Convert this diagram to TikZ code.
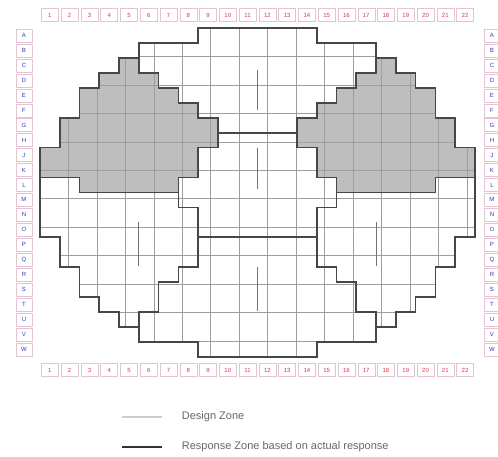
\documentclass[tikz,border=0pt]{standalone}
\usepackage{fontspec}
\setmainfont{Liberation Sans}
\usetikzlibrary{positioning}
\definecolor{lblred}{RGB}{215,55,70}
\definecolor{lblblue}{RGB}{55,55,185}
\definecolor{lblframe}{RGB}{228,196,212}
\definecolor{wingfill}{RGB}{190,190,190}
% outline of the whole zone map, in cells
\newcommand\discpath{(8,0) -- (14,0) -- (14,1) -- (17,1) -- (17,2) -- (18,2) -- (18,3) -- (19,3) -- (19,4) -- (20,4) -- (20,6) -- (21,6) -- (21,8) -- (22,8) -- (22,14) -- (21,14) -- (21,16) -- (20,16) -- (20,18) -- (19,18) -- (19,19) -- (18,19) -- (18,20) -- (17,20) -- (17,21) -- (14,21) -- (14,22) -- (8,22) -- (8,21) -- (5,21) -- (5,20) -- (4,20) -- (4,19) -- (3,19) -- (3,18) -- (2,18) -- (2,16) -- (1,16) -- (1,14) -- (0,14) -- (0,8) -- (1,8) -- (1,6) -- (2,6) -- (2,4) -- (3,4) -- (3,3) -- (4,3) -- (4,2) -- (5,2) -- (5,1) -- (8,1) -- cycle}
% left shaded wing
\newcommand\wingpath{(4,2) -- (5,2) -- (5,3) -- (6,3) -- (6,4) -- (7,4) -- (7,5) -- (8,5) -- (8,6) -- (9,6) -- (9,8) -- (8,8) -- (8,10) -- (7,10) -- (7,11) -- (2,11) -- (2,10) -- (0,10) -- (0,8) -- (1,8) -- (1,6) -- (2,6) -- (2,4) -- (3,4) -- (3,3) -- (4,3) -- cycle}
% left edge of the middle zones
\newcommand\midchain{(7,11) -- (7,12) -- (8,12) -- (8,16) -- (7,16) -- (7,17) -- (6,17) -- (6,19) -- (5,19) -- (5,21)}

\begin{document}
\begin{tikzpicture}[x=19.77pt, y=-14.95pt,
  gridln/.style={line width=0.5pt, draw=black!38},
  resp/.style={line width=1.7pt, draw=black!72},
  design/.style={line width=1.1pt, draw=black!55},
  numbox/.style={draw=lblframe, fill=white, minimum width=17pt, minimum height=13pt, inner sep=0pt, font=\fontsize{6}{7}\selectfont, text=lblred},
  letbox/.style={numbox, minimum width=16pt, text=lblblue},
  legtxt/.style={anchor=west, font=\fontsize{11}{13}\selectfont, text=black!60}]
\useasboundingbox (-2.023,-1.873) rectangle (23.166,28.629);
% wings
\fill[wingfill] \wingpath;
\begin{scope}[shift={(22,0)}, xscale=-1]
\fill[wingfill] \wingpath;
\end{scope}
% cell grid
\begin{scope}
\clip \discpath;
\draw[gridln] (0,0) grid (22,22);
\end{scope}
% design zone marks
\draw[design] (11,2.8) -- (11,5.5);
\draw[design] (11,8) -- (11,10.8);
\draw[design] (11,16) -- (11,18.9);
\draw[design] (5,13) -- (5,15.9);
\draw[design] (17,13) -- (17,15.9);
% response zones
\draw[resp] \discpath;
\draw[resp] \wingpath;
\draw[resp] \midchain;
\begin{scope}[shift={(22,0)}, xscale=-1]
\draw[resp] \wingpath;
\draw[resp] \midchain;
\end{scope}
\draw[resp] (9,7) -- (13,7);
\draw[resp] (8,14) -- (14,14);
% labels
\foreach \c in {1,...,22} {
  \node[numbox] (top\c) at (\c-0.5,-0.87) {\c};
  \node[numbox] (bot\c) at (\c-0.5,22.88) {\c};
}
\foreach \l [count=\r] in {A,B,C,D,E,F,G,H,J,K,L,M,N,O,P,Q,R,S,T,U,V,W} {
  \node[letbox] (lft\l) at (-0.81,\r-0.5) {\l};
  \node[letbox] (rgt\l) at (22.86,\r-0.5) {\l};
}
% legend
\coordinate (dzA) at (4.15,26.02);
\coordinate (dzB) at (6.17,26.02);
\coordinate (rzA) at (4.15,28.03);
\coordinate (rzB) at (6.17,28.03);
\draw[line width=1.6pt, draw=black!20] (dzA) -- (dzB);
\draw[line width=2.2pt, draw=black!80] (rzA) -- (rzB);
\node[legtxt] (dztxt) at (7.0,26.02) {Design Zone};
\node[legtxt] (rztxt) at (7.0,28.03) {Response Zone based on actual response};
\end{tikzpicture}
\end{document}
